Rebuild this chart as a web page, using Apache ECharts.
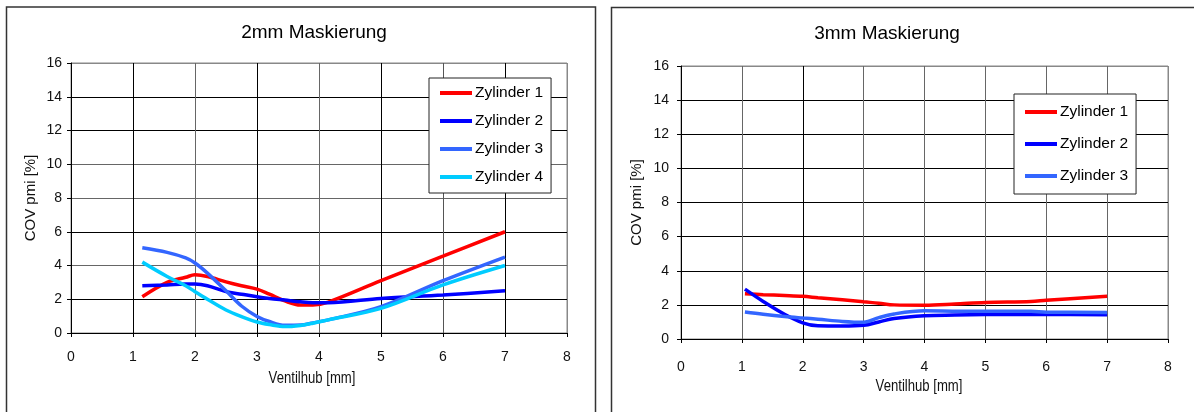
<!DOCTYPE html>
<html>
<head>
<meta charset="utf-8">
<title>COV pmi – Maskierung</title>
<script src="https://cdn.jsdelivr.net/npm/echarts@6/dist/echarts.min.js"></script>
<style>
  html, body { margin: 0; padding: 0; background: #fff; }
  #chart { width: 1194px; height: 412px; }
</style>
</head>
<body>
<div id="chart"></div>
<script>
// Ventilhub [mm] sample positions and COV pmi [%] per cylinder, 2 mm masking
const hub2mm = [1.15, 1.55, 1.85, 2.0, 2.2, 2.5, 2.75, 3.0, 3.2, 3.45, 3.7, 3.9, 4.15, 5.0, 6.0, 7.0];
const zyl1_2mm = [2.15, 3.0, 3.3, 3.45, 3.35, 3.03, 2.8, 2.6, 2.3, 1.9, 1.66, 1.66, 1.83, 3.1, 4.55, 6.0];
const zyl2_2mm = [2.8, 2.85, 2.9, 2.9, 2.8, 2.45, 2.3, 2.15, 2.05, 1.95, 1.85, 1.8, 1.8, 2.05, 2.25, 2.5];
const zyl3_2mm = [5.05, 4.78, 4.45, 4.15, 3.55, 2.5, 1.6, 0.98, 0.68, 0.46, 0.47, 0.6, 0.78, 1.56, 3.1, 4.5];
const zyl4_2mm = [4.2, 3.35, 2.8, 2.45, 2.0, 1.36, 0.97, 0.65, 0.5, 0.38, 0.45, 0.58, 0.78, 1.46, 2.85, 4.0];

// Ventilhub [mm] sample positions and COV pmi [%] per cylinder, 3 mm masking
const hub3mm = [1.05, 1.35, 1.7, 2.0, 2.25, 2.65, 3.0, 3.25, 3.5, 4.0, 4.5, 5.0, 5.75, 6.0, 7.0];
const zyl1_3mm = [2.65, 2.6, 2.55, 2.5, 2.42, 2.3, 2.18, 2.1, 2.0, 1.98, 2.05, 2.14, 2.2, 2.27, 2.5];
const zyl2_3mm = [2.92, 2.2, 1.45, 0.95, 0.77, 0.76, 0.8, 1.0, 1.2, 1.36, 1.4, 1.43, 1.44, 1.44, 1.42];
const zyl3_3mm = [1.58, 1.45, 1.32, 1.23, 1.16, 1.03, 0.98, 1.25, 1.47, 1.65, 1.63, 1.62, 1.62, 1.57, 1.56];

const titles = ['2mm Maskierung', '3mm Maskierung'];
const xName = 'Ventilhub [mm]';
const yName = 'COV pmi [%]';
const legend2mm = ['Zylinder 1', 'Zylinder 2', 'Zylinder 3', 'Zylinder 4'];
const legend3mm = ['Zylinder 1', 'Zylinder 2', 'Zylinder 3'];

const colors = { 'Zylinder 1': '#ff0000', 'Zylinder 2': '#0000ff', 'Zylinder 3': '#3366ff', 'Zylinder 4': '#00ccff' };
const FONT = '"Liberation Sans", Arial, sans-serif';

function pairs(xs, ys) { return xs.map((x, i) => [x, ys[i]]); }

function lineSeries(name, xs, ys, idx) {
  return {
    type: 'line', name: name, xAxisIndex: idx, yAxisIndex: idx,
    data: pairs(xs, ys), smooth: 0.35, symbol: 'none',
    lineStyle: { color: colors[name], width: 3.5 },
    itemStyle: { color: colors[name] },
    z: 3
  };
}

function xAxisFor(idx, splitColors, labelMargin) {
  return {
    type: 'value', gridIndex: idx, min: 0, max: 8, interval: 1,
    axisLine: { show: true, onZero: false, lineStyle: { color: '#000', width: 1 } },
    axisTick: { show: true, length: 4, lineStyle: { color: '#000' } },
    axisLabel: { fontFamily: FONT, fontSize: 14, color: '#111', margin: labelMargin },
    splitLine: { show: true, lineStyle: { color: splitColors, width: 1 } }
  };
}

function yAxisFor(idx, splitColors, labelMargin, nameGap) {
  return {
    type: 'value', gridIndex: idx, min: 0, max: 16, interval: 2,
    name: yName, nameLocation: 'middle', nameGap: nameGap,
    nameTextStyle: { fontFamily: FONT, fontSize: 15, color: '#111' },
    axisLine: { show: true, onZero: false, lineStyle: { color: '#000', width: 1 } },
    axisTick: { show: true, length: 4, lineStyle: { color: '#000' } },
    axisLabel: { fontFamily: FONT, fontSize: 14, color: '#111', margin: labelMargin },
    splitLine: { show: true, lineStyle: { color: splitColors, width: 1 } }
  };
}

function legendFor(names, left, top, gap, padding) {
  return {
    data: names, orient: 'vertical', left: left, top: top,
    icon: 'rect', itemWidth: 32, itemHeight: 4, itemGap: gap, padding: padding,
    backgroundColor: '#fff', borderColor: '#222', borderWidth: 1,
    textStyle: { fontFamily: FONT, fontSize: 15.5, color: '#000', lineHeight: 16, padding: [0, 0, 0, -2] },
    selectedMode: false
  };
}

// narrow axis title under each x axis
function axisTitle(text, x, y) {
  return {
    type: 'text', x: x, y: y, scaleX: 0.82, z: 5, silent: true,
    style: { text: text, font: '16px ' + FONT, fill: '#111', textAlign: 'center', textVerticalAlign: 'middle' }
  };
}

const chart = echarts.init(document.getElementById('chart'), null, { renderer: 'canvas' });

chart.setOption({
  backgroundColor: '#fff',
  animation: false,
  grid: [
    { left: 71, top: 63, width: 496, height: 270, show: true, borderColor: '#888', borderWidth: 1, backgroundColor: 'transparent' },
    { left: 681, top: 66, width: 487, height: 273, show: true, borderColor: '#888', borderWidth: 1, backgroundColor: 'transparent' }
  ],
  xAxis: [
    xAxisFor(0, ['#777', '#000', '#666', '#000', '#666', '#000', '#555', '#000', '#888'], 17),
    xAxisFor(1, ['#777', '#666', '#000', '#666', '#666', '#666', '#666', '#666', '#888'], 21)
  ],
  yAxis: [
    yAxisFor(0, ['#000', '#000', '#666', '#000', '#666', '#666', '#000', '#000', '#888'], 9, 33),
    yAxisFor(1, ['#000', '#000', '#000', '#000', '#000', '#000', '#000', '#000', '#888'], 12, 37)
  ],
  legend: [
    legendFor(legend2mm, 429, 78, 12, [7, 8, 8, 11]),
    legendFor(legend3mm, 1014, 94, 16, [10, 8, 10, 11])
  ],
  series: [
    lineSeries('Zylinder 1', hub2mm, zyl1_2mm, 0),
    lineSeries('Zylinder 2', hub2mm, zyl2_2mm, 0),
    lineSeries('Zylinder 3', hub2mm, zyl3_2mm, 0),
    lineSeries('Zylinder 4', hub2mm, zyl4_2mm, 0),
    lineSeries('Zylinder 1', hub3mm, zyl1_3mm, 1),
    lineSeries('Zylinder 2', hub3mm, zyl2_3mm, 1),
    lineSeries('Zylinder 3', hub3mm, zyl3_3mm, 1)
  ],
  graphic: [
    // chart frames
    { type: 'rect', shape: { x: 6.5, y: 7, width: 589, height: 420 }, style: { fill: 'none', stroke: '#333', lineWidth: 1.5 }, z: 0, silent: true },
    { type: 'rect', shape: { x: 611.5, y: 7.5, width: 600, height: 420 }, style: { fill: 'none', stroke: '#333', lineWidth: 1.5 }, z: 0, silent: true },
    // chart titles
    { type: 'text', x: 314, y: 23, style: { text: titles[0], font: '19px ' + FONT, fill: '#000', textAlign: 'center', textVerticalAlign: 'top' }, z: 5, silent: true },
    { type: 'text', x: 887, y: 24, style: { text: titles[1], font: '19px ' + FONT, fill: '#000', textAlign: 'center', textVerticalAlign: 'top' }, z: 5, silent: true },
    // x axis titles
    axisTitle(xName, 312, 379),
    axisTitle(xName, 919, 387)
  ]
});
</script>
</body>
</html>
